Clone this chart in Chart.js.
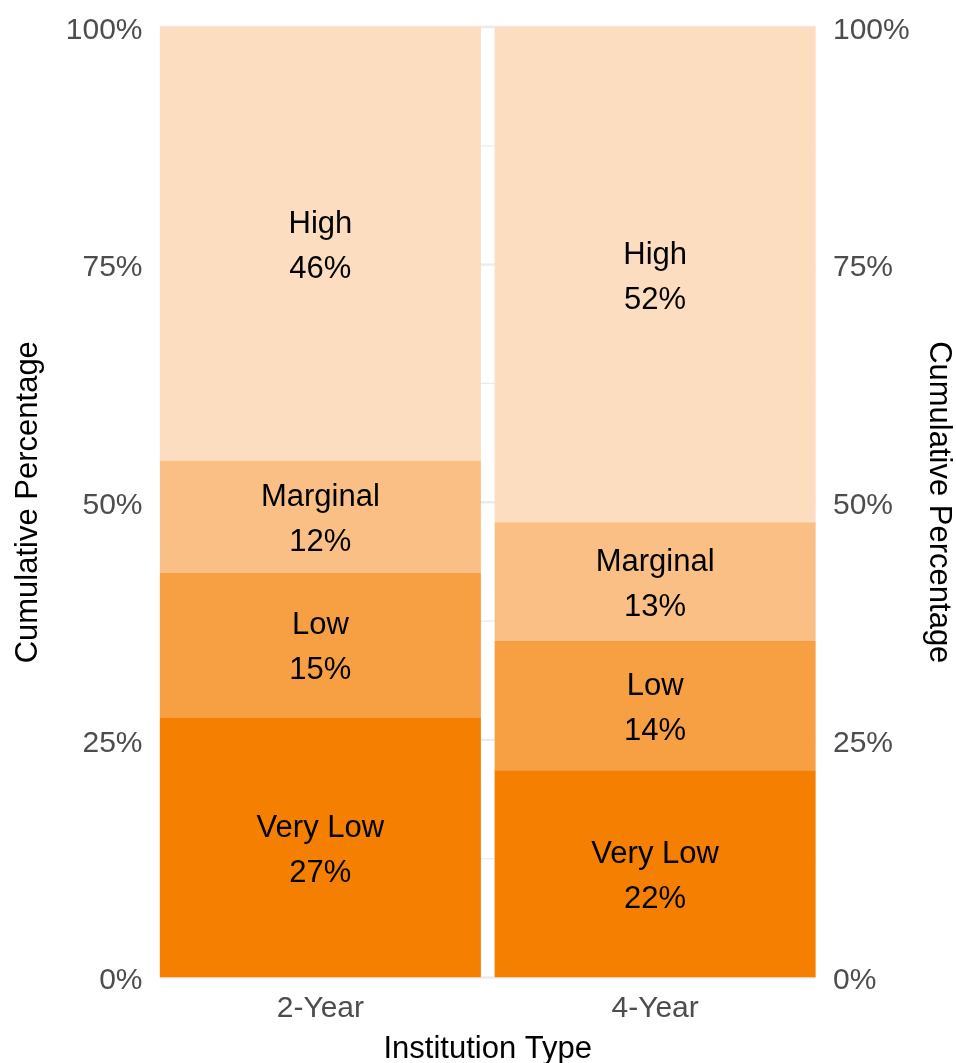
<!DOCTYPE html>
<html>
<head>
  <title>Cumulative Percentage by Institution Type</title>
  <script src="https://cdn.jsdelivr.net/npm/chart.js"></script>
  <style>
    body { margin: 0; background: #ffffff; }
    #chart { display: block; }
  </style>
</head>
<body>
  <canvas id="chart" width="956" height="1063"></canvas>

  <script>
    // data (cumulative stack, in %)
    const categories = ['2-Year', '4-Year'];
    const levels = ['Very Low', 'Low', 'Marginal', 'High'];
    const veryLow = [27.3, 21.8];
    const low = [15.3, 13.6];
    const marginal = [11.8, 12.5];
    const high = [45.6, 52.1];
    const yTicks = [0, 25, 50, 75, 100];
    const gridValues = [0, 12.5, 25, 37.5, 50, 62.5, 75, 87.5, 100];

    const FONT = '"Liberation Sans", Arial, sans-serif';
    const palette = ['#F47F00', '#F7A043', '#F9BF84', '#FCDDBF'];
    const series = [veryLow, low, marginal, high];

    // light grid, only across the bars' panel
    const panelGrid = {
      id: 'panelGrid',
      beforeDatasetsDraw(chart) {
        const ctx = chart.ctx;
        const y = chart.scales.y;
        const bars = chart.getDatasetMeta(0).data;
        const first = bars[0], last = bars[bars.length - 1];
        const x0 = first.x - first.width / 2;
        const x1 = last.x + last.width / 2;
        ctx.save();
        ctx.strokeStyle = '#EBEBEB';
        gridValues.forEach(v => {
          ctx.lineWidth = v % 25 === 0 ? 2.4 : 1.3;
          const py = y.getPixelForValue(v);
          ctx.beginPath();
          ctx.moveTo(x0, py);
          ctx.lineTo(x1, py);
          ctx.stroke();
        });
        ctx.restore();
      }
    };

    // two-line labels in the middle of each segment
    const segmentLabels = {
      id: 'segmentLabels',
      afterDatasetsDraw(chart) {
        const ctx = chart.ctx;
        ctx.save();
        ctx.font = '31px ' + FONT;
        ctx.fillStyle = '#000000';
        ctx.textAlign = 'center';
        ctx.textBaseline = 'middle';
        chart.data.datasets.forEach((ds, i) => {
          chart.getDatasetMeta(i).data.forEach((bar, j) => {
            const cy = (bar.y + bar.base) / 2 + 3;
            ctx.fillText(ds.label, bar.x, cy - 22.5);
            ctx.fillText(Math.round(ds.data[j]) + '%', bar.x, cy + 22.5);
          });
        });
        ctx.restore();
      }
    };

    const percentTicks = scale => {
      scale.ticks = yTicks.map(v => ({ value: v }));
    };

    const tickFont = { family: FONT, size: 30, lineHeight: 1 };
    const titleFont = { family: FONT, size: 31, lineHeight: 1 };

    new Chart(document.getElementById('chart'), {
      type: 'bar',
      data: {
        labels: categories,
        datasets: levels.map((name, i) => ({
          label: name,
          data: series[i],
          backgroundColor: palette[i],
          borderWidth: 0,
          barPercentage: 0.959,
          categoryPercentage: 1
        }))
      },
      options: {
        responsive: false,
        animation: false,
        layout: { padding: { top: 27, left: 0, right: 0, bottom: 0 } },
        plugins: {
          legend: { display: false },
          tooltip: { enabled: false }
        },
        scales: {
          x: {
            stacked: true,
            grid: { display: false, drawTicks: false },
            border: { display: false },
            ticks: { color: '#4D4D4D', font: tickFont, padding: 16.5 },
            title: {
              display: true, text: 'Institution Type', color: '#000000',
              font: titleFont, padding: { top: 0, bottom: -1.5 }
            },
            afterFit(s) { s.height = 85.5; }
          },
          y: {
            stacked: true,
            position: 'left',
            min: 0, max: 100,
            afterBuildTicks: percentTicks,
            grid: { display: false, drawTicks: false },
            border: { display: false },
            ticks: { color: '#4D4D4D', font: tickFont, padding: 10.5, labelOffset: 3.5, callback: v => v + '%' },
            title: {
              display: true, text: 'Cumulative Percentage', color: '#000000',
              font: titleFont, padding: { top: 12.5, bottom: 0 }
            },
            afterFit(s) { s.width = 153; }
          },
          y2: {
            axis: 'y',
            position: 'right',
            min: 0, max: 100,
            afterBuildTicks: percentTicks,
            grid: { display: false, drawTicks: false },
            border: { display: false },
            ticks: { color: '#4D4D4D', font: tickFont, padding: 10.5, labelOffset: 3.5, callback: v => v + '%' },
            title: {
              display: true, text: 'Cumulative Percentage', color: '#000000',
              font: titleFont, padding: { top: 2, bottom: 0 }
            },
            afterFit(s) { s.width = 133.5; }
          }
        }
      },
      plugins: [panelGrid, segmentLabels]
    });
  </script>
</body>
</html>
